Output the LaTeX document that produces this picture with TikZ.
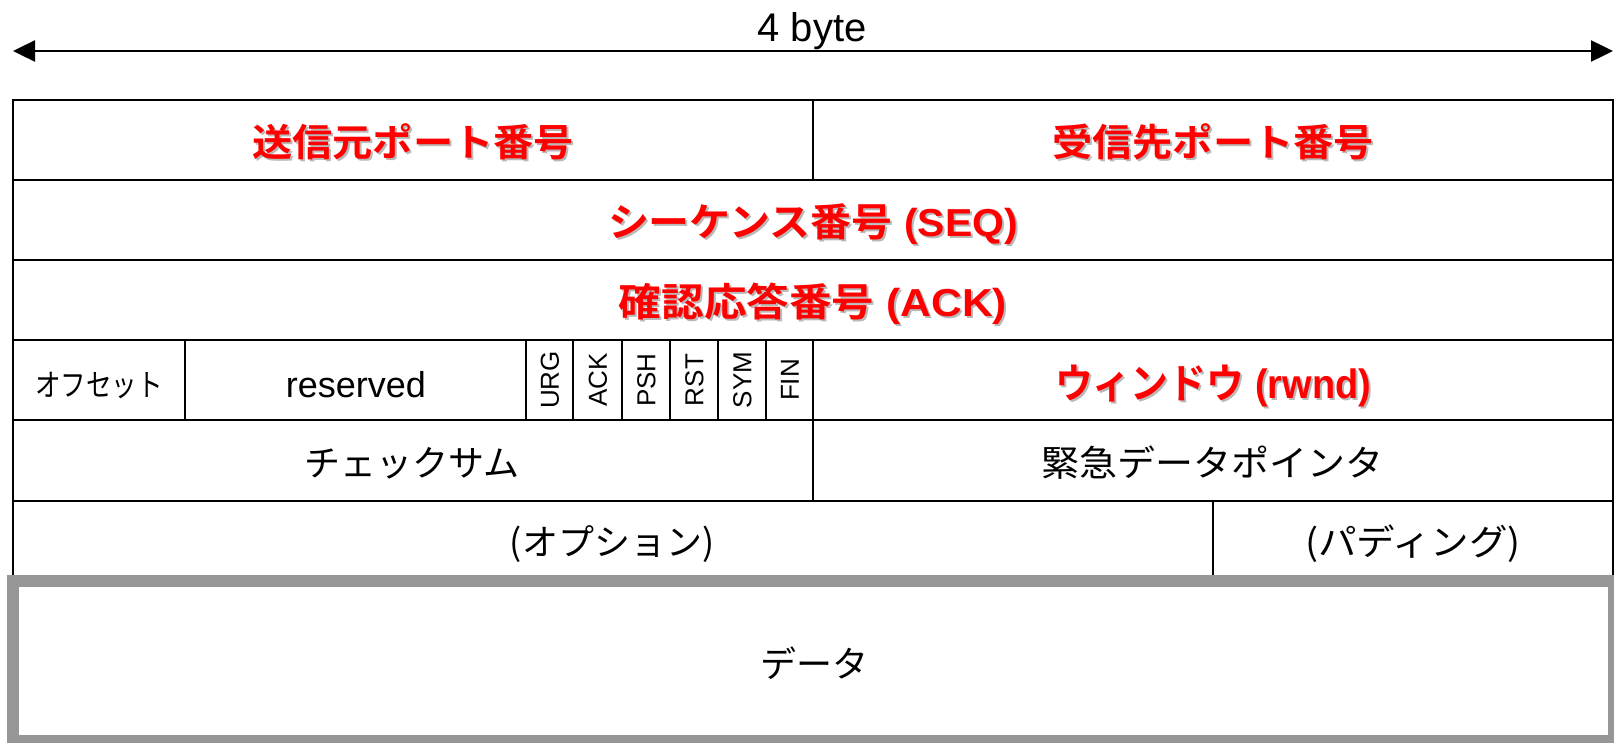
\documentclass[tikz,border=0pt]{standalone}
\usepackage{fontspec}
\setmainfont{Liberation Sans}
\newfontfamily\jp{Noto Sans CJK JP}[BoldFont={* Bold}]
\usetikzlibrary{arrows.meta}
\definecolor{redtxt}{RGB}{255,0,0}
\definecolor{shadowgray}{RGB}{185,185,185}
\definecolor{databorder}{RGB}{150,150,150}
\newcommand\hfit[2]{\resizebox{#1}{\height}{#2}}
\newcommand\fs[1]{\fontsize{#1}{#1}\selectfont}
\newcommand\redlabel[6]{%
  \node[lbl, text=shadowgray, font=\fs{#3}\bfseries, text height=#4] at ([shift={(2,2)}]#2) {\hfit{#5}{#6}};
  \node[lbl, text=redtxt, font=\fs{#3}\bfseries, text height=#4] (#1) at (#2) {\hfit{#5}{#6}};}
\begin{document}
\begin{tikzpicture}[x=1pt,y=-1pt,
  cell/.style={draw=black, line width=2.4pt, inner sep=0pt, outer sep=0pt},
  lbl/.style={inner sep=0pt, text depth=0pt},
  flag/.style={inner sep=0pt, rotate=90, font=\fs{26}, text height=18.5pt, text depth=0pt},
  jptxt/.style={lbl, font=\fs{36}\jp, text height=27pt}]
\useasboundingbox (0,0) rectangle (1614,742);
% top dimension arrow
\coordinate (al) at (13,51);
\coordinate (ar) at (1613,51);
\draw[line width=2.4pt, {Triangle[length=22pt,width=21pt]}-{Triangle[length=22pt,width=21pt]}] (al) -- (ar);
\node[anchor=base, inner sep=0pt, font=\fs{40}] (bytes) at (812,41) {4 byte};
% row 1
\node[cell, minimum width=800, minimum height=80] (src) at (413,140) {};
\node[cell, minimum width=800, minimum height=80] (dst) at (1213,140) {};
\coordinate (srcc) at (413,142);
\coordinate (dstc) at (1213,142);
% row 2
\node[cell, minimum width=1600, minimum height=80] (seq) at (813,220) {};
\coordinate (seqc) at (813,222);
% row 3
\node[cell, minimum width=1600, minimum height=80] (ack) at (813,300) {};
\coordinate (ackc) at (813,302);
% row 4
\node[cell, minimum width=172, minimum height=80] (off) at (99,380) {};
\node[cell, minimum width=341, minimum height=80] (res) at (355.5,380) {};
\node[cell, minimum width=47, minimum height=80] (fu) at (549.5,380) {};
\node[cell, minimum width=49, minimum height=80] (fa) at (597.5,380) {};
\node[cell, minimum width=48, minimum height=80] (fp) at (646,380) {};
\node[cell, minimum width=48, minimum height=80] (fr) at (694,380) {};
\node[cell, minimum width=48, minimum height=80] (fs) at (742,380) {};
\node[cell, minimum width=47, minimum height=80] (ff) at (789.5,380) {};
\node[cell, minimum width=800, minimum height=80] (win) at (1213,380) {};
\coordinate (winc) at (1213,383);
% row 5
\node[cell, minimum width=800, minimum height=81] (chk) at (413,460.5) {};
\node[cell, minimum width=800, minimum height=81] (urp) at (1213,460.5) {};
% row 6
\node[cell, minimum width=1200, minimum height=80] (opt) at (613,541) {};
\node[cell, minimum width=400, minimum height=80] (pad) at (1413,541) {};
% data
\node[draw=databorder, line width=12pt, inner sep=0pt, minimum width=1601, minimum height=160, fill=white] (data) at (813.5,661) {};
% red labels
\redlabel{tsrc}{srcc}{38}{28pt}{322pt}{{\jp 送信元ポート番号}}
\redlabel{tdst}{dstc}{38}{28pt}{322pt}{{\jp 受信先ポート番号}}
\redlabel{tseq}{seqc}{39}{29pt}{410pt}{{\jp シーケンス番号} (SEQ)}
\redlabel{tack}{ackc}{39}{29pt}{388pt}{{\jp 確認応答番号} (ACK)}
\redlabel{twin}{winc}{41}{30pt}{316pt}{{\jp ウィンドウ} (rwnd)}
% black labels
\node[lbl, font=\fs{31}\jp, text height=23.5pt] (toff) at (99,384.5) {\hfit{128pt}{オフセット}};
\node[anchor=base, inner sep=0pt, font=\fs{36}] (tres) at (356,397) {reserved};
\node[flag] (tfu) at (fu.center) {URG};
\node[flag] (tfa) at (fa.center) {ACK};
\node[flag] (tfp) at (fp.center) {PSH};
\node[flag] (tfr) at (fr.center) {RST};
\node[flag] (tfs) at (fs.center) {SYM};
\node[flag] (tff) at (ff.center) {FIN};
\node[jptxt] (tchk) at (412,463) {チェックサム};
\node[jptxt] (turp) at (1212,463) {\hfit{342pt}{緊急データポインタ}};
\node[jptxt] (topt) at (612,542) {(オプション)};
\node[jptxt] (tpad) at (1413,542) {\hfit{216pt}{(パディング)}};
\node[jptxt] (tdata) at (814,664) {データ};
\end{tikzpicture}
\end{document}
